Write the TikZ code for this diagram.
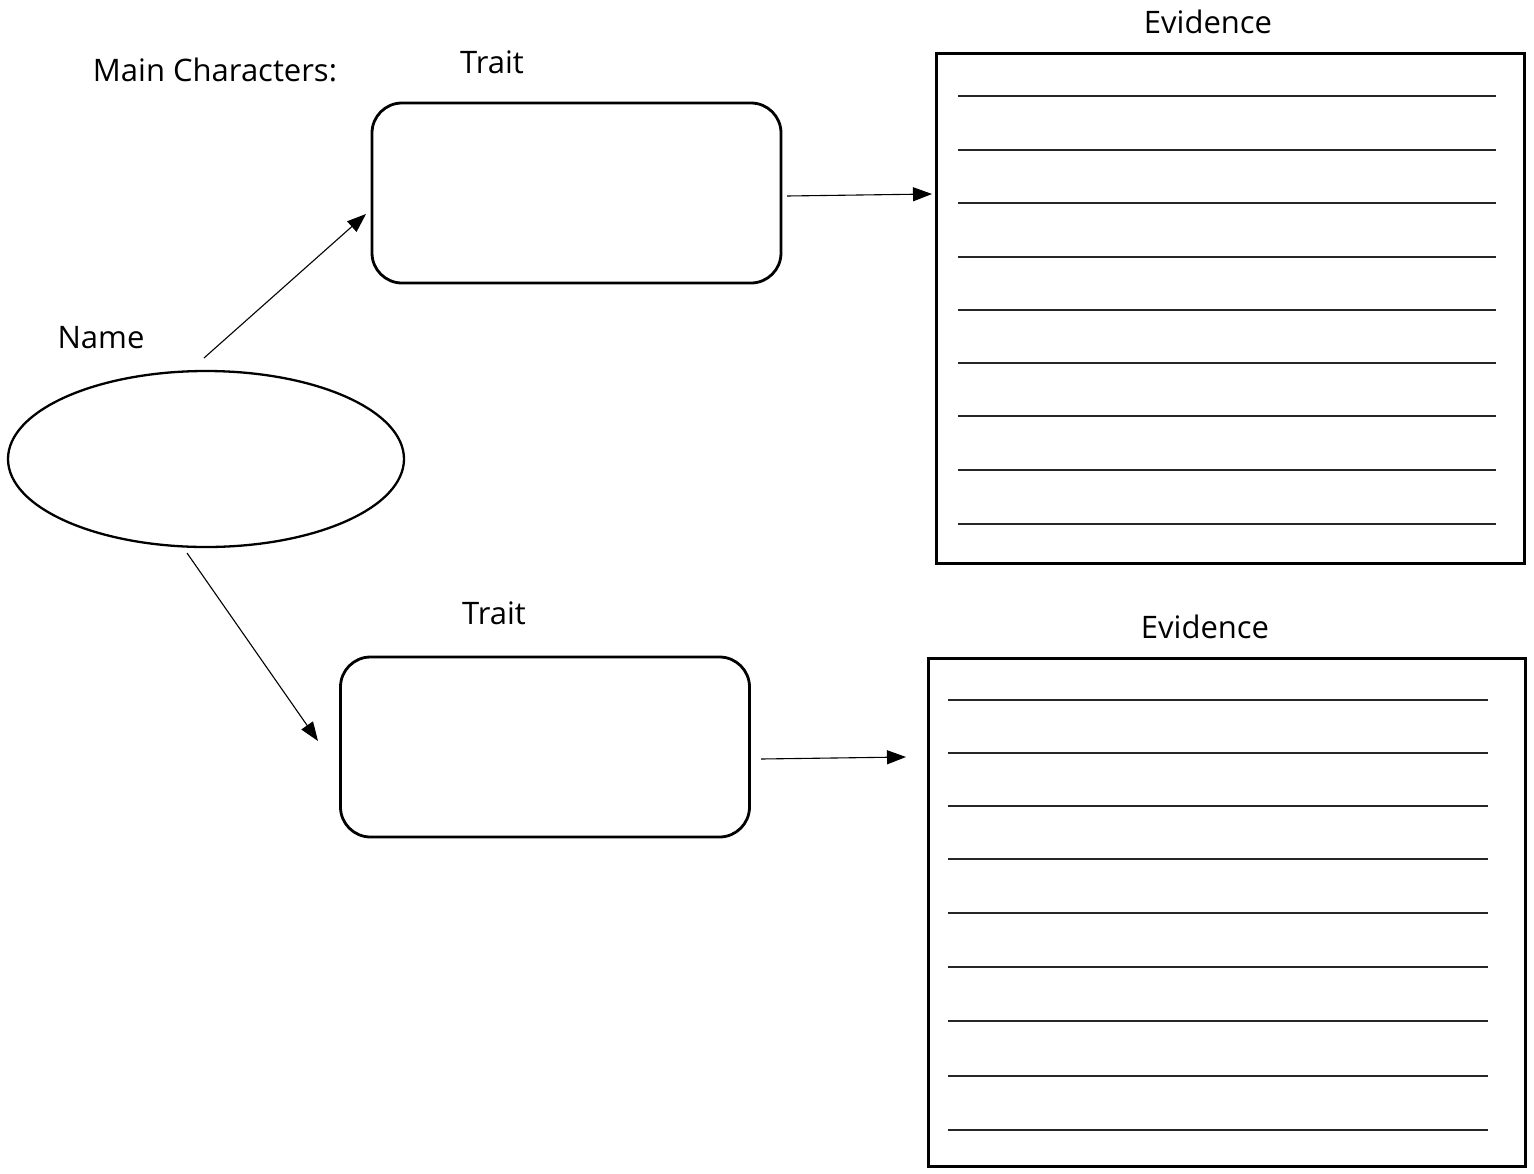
\documentclass[tikz,border=0pt]{standalone}
\usepackage{fontspec}
\setmainfont{Open Sans}
\usetikzlibrary{arrows.meta,shapes.geometric}
\tikzset{
  lbl/.style={inner sep=0pt, font=\fontsize{31}{36}\selectfont},
  traitbox/.style={draw, line width=2.8pt, rounded corners=30pt, minimum width=409pt, minimum height=180pt, inner sep=0pt},
  evbox/.style={draw, line width=3pt, inner sep=0pt},
  wline/.style={line width=1.8pt, black!85},
  conn/.style={line width=1.1pt, -{Triangle[length=19pt,width=14pt]}},
}
\begin{document}
\begin{tikzpicture}[x=1pt,y=-1pt]
\useasboundingbox (0,0) rectangle (1534,1173);
% labels
\node[lbl] (mainc) at (215,70) {Main Characters:};
\node[lbl] (trait1) at (492,62) {Trait};
\node[lbl] (ev1) at (1208,22) {Evidence};
\node[lbl] (name) at (101,338) {Name};
\node[lbl] (trait2) at (494,613) {Trait};
\node[lbl] (ev2) at (1205,627) {Evidence};
% shapes
\node[draw, ellipse, line width=2.3pt, minimum width=396pt, minimum height=176pt, inner sep=0pt] (ell) at (206,459) {};
\node[traitbox] (box1) at (576.5,193) {};
\node[traitbox] (box2) at (545,747) {};
\node[evbox, minimum width=588pt, minimum height=510pt] (evb1) at (1230,308) {};
\node[evbox, minimum width=597pt, minimum height=508pt] (evb2) at (1226.5,912) {};
% writing lines
\foreach \y in {96,150,203,257,310,363,416,470,524}
  \draw[wline] (958,\y) -- (1496,\y);
\foreach \y in {700,753,806,859,913,967,1021,1076,1130}
  \draw[wline] (948,\y) -- (1488,\y);
% connector end points
\coordinate (a1s) at (204,358);
\coordinate (a1e) at (366,214);
\coordinate (a2s) at (787,196);
\coordinate (a2e) at (932,194);
\coordinate (a3s) at (187,553);
\coordinate (a3e) at (318,741);
\coordinate (a4s) at (761,759);
\coordinate (a4e) at (906,757);
\draw[conn] (a1s) -- (a1e);
\draw[conn] (a2s) -- (a2e);
\draw[conn] (a3s) -- (a3e);
\draw[conn] (a4s) -- (a4e);
\end{tikzpicture}
\end{document}
